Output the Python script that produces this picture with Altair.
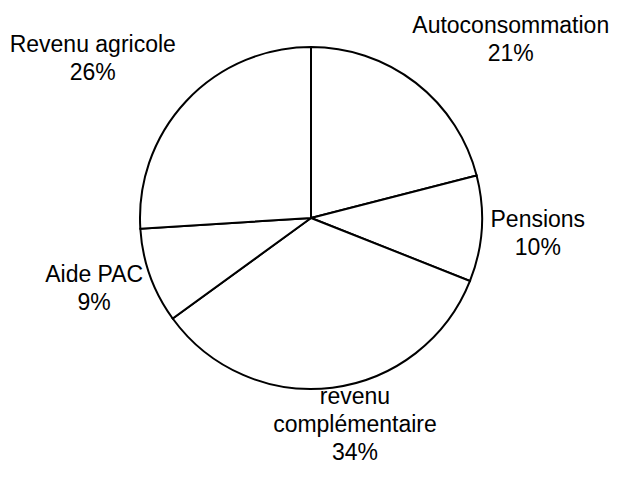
import math
import altair as alt
import pandas as pd

# --- data ---
categories = ["Autoconsommation", "Pensions", "revenu\ncomplémentaire", "Aide PAC", "Revenu agricole"]
shares = [21, 10, 34, 9, 26]

# --- layout: pie centre (plot-area px), label angle clockwise from 12 o'clock, distance from centre ---
center_x, center_y = 303, 210
label_angle_deg = [47.25, 92.3, 166.7, 253.6, 307.2]
label_radius = [272, 227, 191, 226, 274]

df = pd.DataFrame({
    "order": list(range(len(categories))),
    "category": categories,
    "share": shares,
    "label": [f"{c}\n{s}%" for c, s in zip(categories, shares)],
    "lab_theta": [math.radians(a) for a in label_angle_deg],
    "lab_r": label_radius,
})

base = alt.Chart(df)

pie = base.mark_arc(fill="white", stroke="black", strokeWidth=2, outerRadius=171).encode(
    theta=alt.Theta("share:Q", stack=True),
    order=alt.Order("order:Q", sort="ascending"),
    x=alt.value(center_x),
    y=alt.value(center_y),
)

text = base.mark_text(
    font="Liberation Sans", fontSize=23, align="center", baseline="alphabetic",
    lineBreak="\n", lineHeight=28, color="black",
).encode(
    theta=alt.Theta("lab_theta:Q", scale=None, stack=False),
    radius=alt.Radius("lab_r:Q", scale=None),
    text="label:N",
    x=alt.value(center_x),
    y=alt.value(center_y),
)

chart = (
    alt.layer(pie, text)
    .resolve_scale(theta="independent", radius="independent")
    .properties(width=602, height=455, padding=0, autosize=alt.AutoSizeParams(type="none"))
    .configure_view(stroke=None)
)

chart.save("out.html", embed_options={"renderer": "svg", "actions": False})
